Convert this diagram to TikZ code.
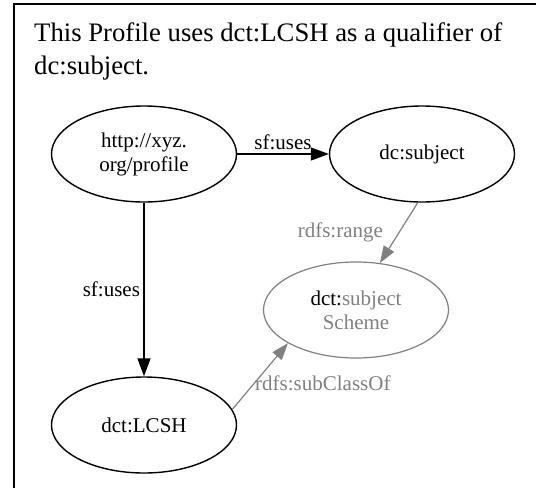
\documentclass[tikz,border=0pt]{standalone}
\usepackage{fontspec}
\setmainfont{Liberation Serif}
\usetikzlibrary{shapes.geometric,arrows.meta}
\tikzset{
  term/.style    = { ellipse, draw, line width=1.4pt, minimum width=185pt,
                     minimum height=96pt, inner sep=0pt, align=center,
                     font=\fontsize{21}{24}\selectfont },
  faded/.style   = { term, draw=gray, line width=1.2pt, text=gray },
  uses/.style    = { -{Triangle[length=18pt,width=13pt]}, line width=1.4pt },
  infer/.style   = { -{Triangle[length=17pt,width=12pt]}, gray, line width=1.2pt },
  edgetext/.style = { font=\fontsize{21}{24}\selectfont },
  caption/.style = { align=left, inner sep=0pt, font=\fontsize{26.7}{33}\selectfont }
}
\begin{document}
\begin{tikzpicture}[x=1pt,y=-1pt]
  \useasboundingbox (0,0) rectangle (536,488);

  % Draw frame and caption
  \draw[line width=1.3pt] (14,488) -- (14,4) -- (536,4);
  \node[caption, anchor=north west] (title) at (34,22)
    {This Profile uses dct:LCSH as a qualifier of\\dc:subject.};

  % Draw all terms
  \node[term]  (profile) at (144,154) {http://xyz.\\org/profile};
  \node[term]  (subject) at (422,154) {dc:subject};
  \node[faded] (scheme)  at (356,310) {\textcolor{black}{dct:}subject\\Scheme};
  \node[term]  (lcsh)    at (144,425) {dct:LCSH};

  % Draw links
  \draw[uses]  (profile) -- node[edgetext, above] {sf:uses} (subject);
  \draw[uses]  (profile) -- node[edgetext, left] {sf:uses} (lcsh);
  \draw[infer] (subject.265) -- node[edgetext, left=12pt] {rdfs:range} (scheme.63);
  \draw[infer] (lcsh.10) -- node[edgetext, anchor=west, inner sep=0pt, pos=0.4] {rdfs:subClassOf} (scheme.206);
\end{tikzpicture}
\end{document}
